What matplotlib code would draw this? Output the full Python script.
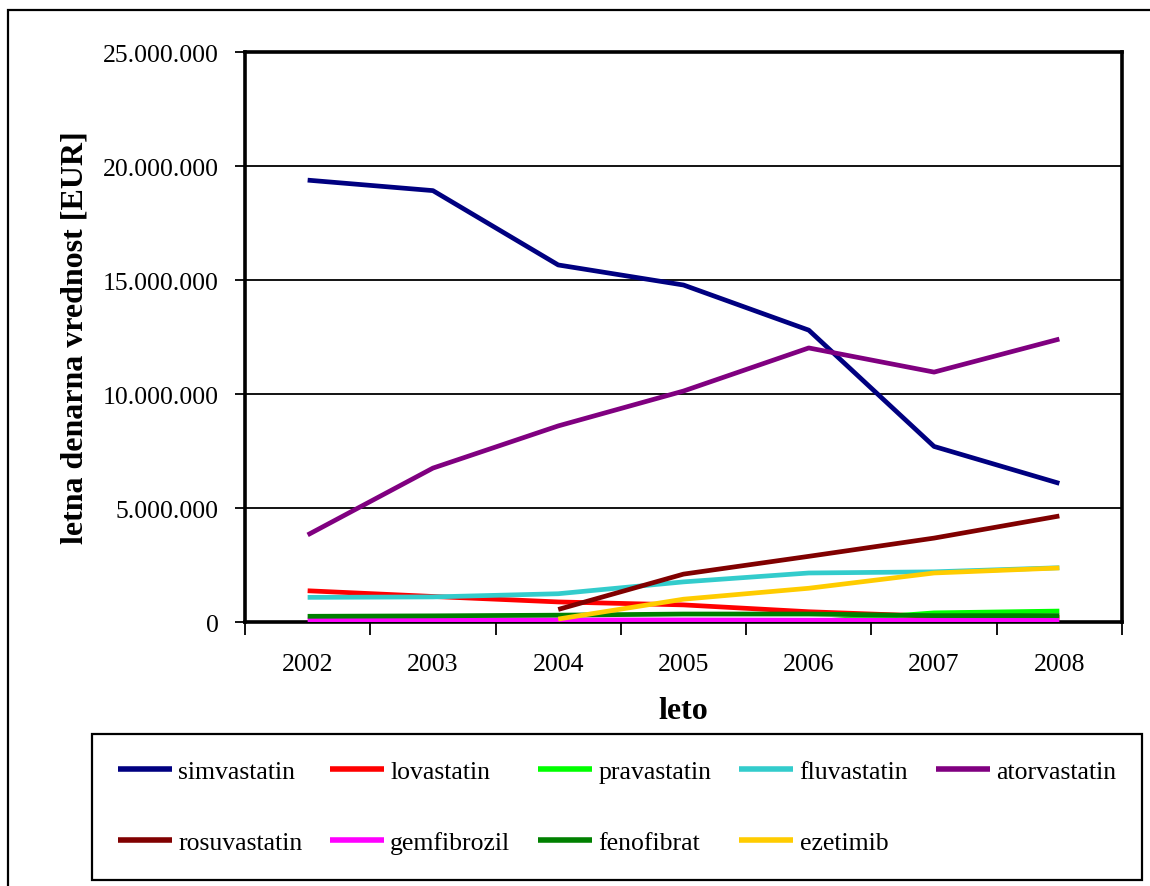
import numpy as np
import matplotlib
matplotlib.use("Agg")
import matplotlib.pyplot as plt
from matplotlib.patches import Rectangle
from matplotlib.ticker import FixedLocator, FuncFormatter

plt.rcParams["font.family"] = ["Liberation Serif", "DejaVu Serif"]

# annual value per active substance, EUR
years = ["2002", "2003", "2004", "2005", "2006", "2007", "2008"]
simvastatin = [19.38e6, 18.92e6, 15.66e6, 14.78e6, 12.80e6, 7.70e6, 6.08e6]
lovastatin = [1.37e6, 1.12e6, 0.88e6, 0.75e6, 0.45e6, 0.25e6, 0.20e6]
pravastatin = [np.nan, np.nan, np.nan, np.nan, 0.0, 0.40e6, 0.48e6]
fluvastatin = [1.08e6, 1.10e6, 1.24e6, 1.76e6, 2.15e6, 2.20e6, 2.38e6]
atorvastatin = [3.82e6, 6.75e6, 8.60e6, 10.13e6, 12.02e6, 10.96e6, 12.41e6]
rosuvastatin = [np.nan, np.nan, 0.55e6, 2.10e6, 2.88e6, 3.68e6, 4.65e6]
gemfibrozil = [0.09e6, 0.09e6, 0.09e6, 0.09e6, 0.08e6, 0.08e6, 0.08e6]
fenofibrat = [0.25e6, 0.27e6, 0.30e6, 0.35e6, 0.35e6, 0.28e6, 0.28e6]
ezetimib = [np.nan, np.nan, 0.13e6, 1.00e6, 1.48e6, 2.15e6, 2.37e6]

series = [
    ("simvastatin", simvastatin, "#000080"),
    ("lovastatin", lovastatin, "#FF0000"),
    ("pravastatin", pravastatin, "#00FF00"),
    ("fluvastatin", fluvastatin, "#33CCCC"),
    ("atorvastatin", atorvastatin, "#800080"),
    ("rosuvastatin", rosuvastatin, "#800000"),
    ("gemfibrozil", gemfibrozil, "#FF00FF"),
    ("fenofibrat", fenofibrat, "#008000"),
    ("ezetimib", ezetimib, "#FFCC00"),
]

W, H = 1150, 887
fig = plt.figure(figsize=(W / 100, H / 100), dpi=100)
fig.patch.set_facecolor("white")

# outer chart border (runs off the right and bottom edge)
fig.patches.append(Rectangle((8 / W, -0.2), 1.2, 1.2 - 11 / H, transform=fig.transFigure,
                             fill=False, edgecolor="black", linewidth=1.6, zorder=0))

ax = fig.add_axes([245 / W, 1 - 623 / H, 877 / W, 570 / H])
x = np.arange(len(years))
handles = []
for name, vals, col in series:
    h, = ax.plot(x, vals, color=col, linewidth=3.4, label=name, solid_capstyle="butt", zorder=3)
    handles.append(h)

ax.set_xlim(-0.5, len(years) - 0.5)
ax.set_ylim(0, 25e6)
ax.set_yticks(np.arange(0, 25e6 + 1, 5e6))
ax.yaxis.set_major_formatter(FuncFormatter(lambda v, p: f"{int(v):,}".replace(",", ".")))
ax.grid(axis="y", color="black", linewidth=1.3, zorder=1)

# tick marks between categories, labels centred on categories
ax.xaxis.set_major_locator(FixedLocator(np.arange(-0.5, len(years), 1.0)))
ax.xaxis.set_minor_locator(FixedLocator(x))
ax.set_xticklabels([])
ax.set_xticklabels(years, minor=True)
ax.tick_params(axis="x", which="major", length=9, width=1.3, direction="out")
ax.tick_params(axis="x", which="minor", length=0, pad=22, labelsize=18.5)
ax.tick_params(axis="y", length=7, width=1.3, direction="out", pad=12, labelsize=18.5)

for s in ax.spines.values():
    s.set_linewidth(2.6)

ax.set_xlabel("leto", fontsize=23, fontweight="bold")
ax.xaxis.set_label_coords(0.5, (623 - 712) / 570)
ax.xaxis.label.set_va("center")
ax.set_ylabel("letna denarna vrednost [EUR]", fontsize=23, fontweight="bold")
ax.yaxis.set_label_coords((75 - 245) / 877, 0.5)
ax.yaxis.label.set_va("center")

# legend fills column by column, so reorder to read row by row
order = [0, 5, 1, 6, 2, 7, 3, 8, 4]
leg = fig.legend([handles[i] for i in order], [series[i][0] for i in order],
                 loc="upper left", bbox_to_anchor=(92 / W, 1 - 880 / H, 1050 / W, 145 / H),
                 mode="expand", ncol=5, fontsize=18.5, frameon=True, fancybox=False,
                 framealpha=1, edgecolor="black", borderaxespad=0, handlelength=2.1,
                 handletextpad=0.25, labelspacing=1.9, borderpad=1.0, columnspacing=0.9)
leg.get_frame().set_linewidth(1.6)
for line in leg.get_lines():
    line.set_linewidth(4)

fig.savefig("out.png", dpi=100)
